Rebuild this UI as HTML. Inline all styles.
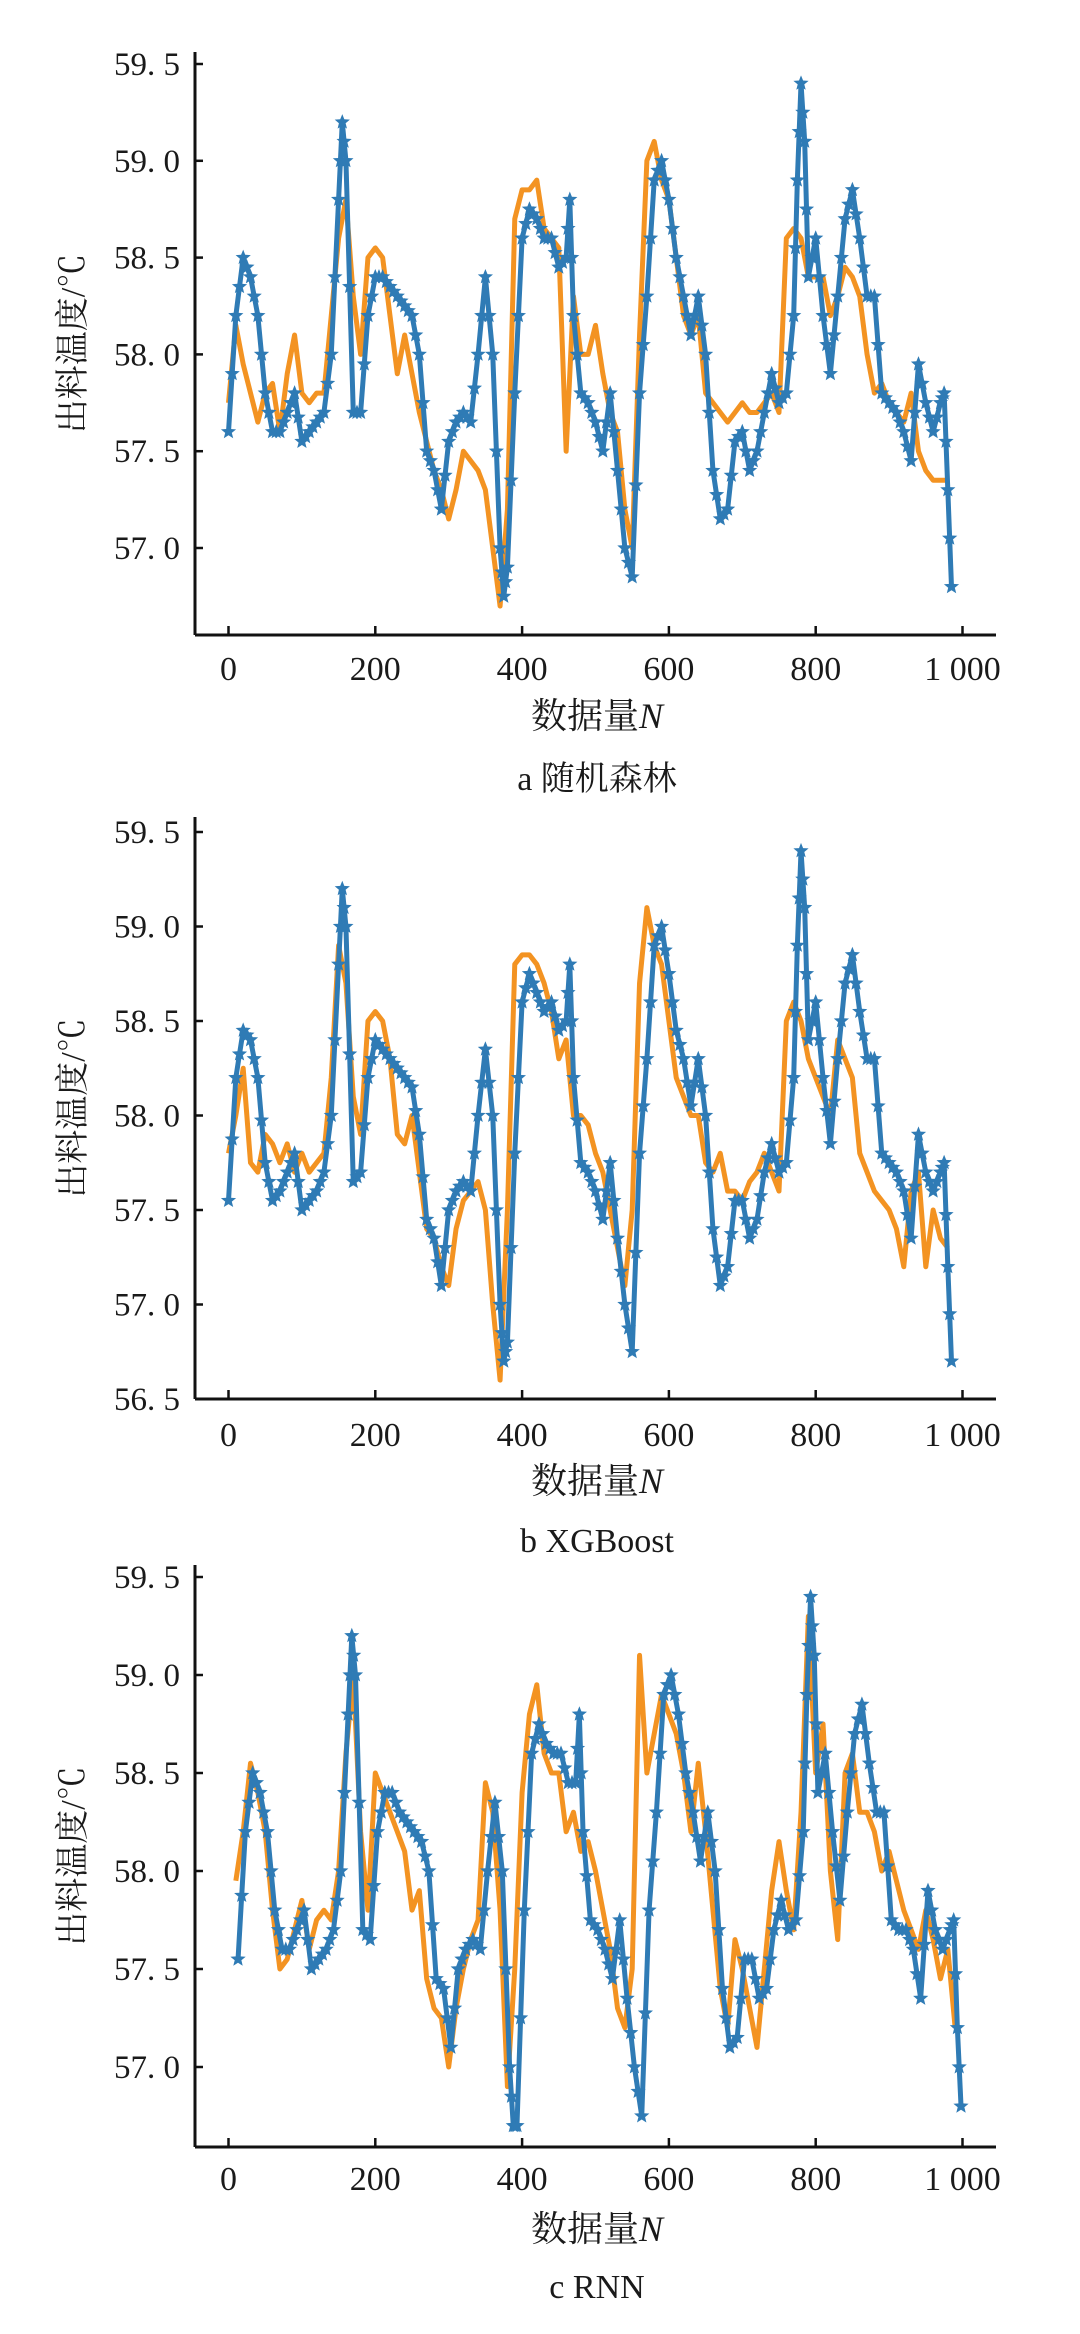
<!DOCTYPE html>
<html><head><meta charset="utf-8"><style>
html,body{margin:0;padding:0;background:#fff;}
svg{display:block;}
text{font-family:"Liberation Serif","Noto Serif CJK SC",serif;fill:#1a1a1a;}
</style></head><body>
<svg id="fig" width="1080" height="2334" viewBox="0 0 1080 2334" xmlns="http://www.w3.org/2000/svg"></svg>
<script>
// ---- data ----
const blueIdx = [0,10,20,30,40,50,60,70,80,90,100,110,120,130,140,150,155,160,170,180,190,200,210,220,230,240,250,260,270,280,290,300,310,320,330,340,350,360,370,375,380,390,400,410,420,430,440,450,460,465,470,480,490,500,510,520,530,540,550,560,570,580,590,600,610,620,630,640,650,660,670,680,690,700,710,720,730,740,750,760,770,775,780,785,790,800,810,820,830,840,850,860,870,880,890,900,910,920,930,940,950,960,970,975,980,985];
const blueVals = [57.6,58.2,58.5,58.4,58.2,57.8,57.6,57.6,57.7,57.8,57.55,57.6,57.65,57.7,58.0,58.8,59.2,59.0,57.7,57.7,58.2,58.4,58.4,58.35,58.3,58.25,58.2,58.0,57.5,57.4,57.2,57.55,57.65,57.7,57.65,58.0,58.4,58.0,57.0,56.75,56.9,57.8,58.6,58.75,58.7,58.6,58.6,58.45,58.5,58.8,58.2,57.8,57.75,57.65,57.5,57.8,57.4,57.0,56.85,57.8,58.3,58.9,59.0,58.8,58.5,58.3,58.1,58.3,58.0,57.4,57.15,57.2,57.55,57.6,57.4,57.5,57.7,57.9,57.75,57.8,58.2,58.9,59.4,59.1,58.4,58.6,58.2,57.9,58.3,58.7,58.85,58.6,58.3,58.3,57.8,57.75,57.7,57.6,57.45,57.95,57.75,57.6,57.75,57.8,57.3,56.8];
const blueValsB = [57.55,58.2,58.45,58.4,58.2,57.75,57.55,57.6,57.7,57.8,57.5,57.55,57.6,57.7,58.0,58.8,59.2,59.0,57.65,57.7,58.2,58.4,58.35,58.3,58.25,58.2,58.15,57.9,57.45,57.35,57.1,57.5,57.6,57.65,57.6,58.0,58.35,58.0,57.0,56.7,56.8,57.8,58.6,58.75,58.65,58.55,58.6,58.45,58.5,58.8,58.2,57.75,57.7,57.6,57.45,57.75,57.35,57.0,56.75,57.8,58.3,58.9,59.0,58.75,58.45,58.3,58.05,58.3,58.0,57.4,57.1,57.2,57.55,57.55,57.35,57.45,57.7,57.85,57.7,57.75,58.2,58.9,59.4,59.1,58.4,58.6,58.2,57.85,58.3,58.7,58.85,58.55,58.3,58.3,57.8,57.75,57.7,57.6,57.35,57.9,57.7,57.6,57.7,57.75,57.2,56.7];
const blueValsC = [57.55,58.2,58.5,58.4,58.2,57.8,57.6,57.6,57.7,57.8,57.5,57.55,57.6,57.7,58.0,58.8,59.2,59.0,57.7,57.65,58.2,58.4,58.4,58.3,58.25,58.2,58.15,58.0,57.45,57.4,57.1,57.5,57.6,57.65,57.6,58.0,58.35,58.0,57.0,56.7,56.7,57.8,58.6,58.75,58.65,58.6,58.6,58.45,58.45,58.8,58.2,57.75,57.7,57.6,57.45,57.75,57.35,57.0,56.75,57.8,58.3,58.9,59.0,58.8,58.5,58.3,58.05,58.3,58.0,57.4,57.1,57.15,57.55,57.55,57.35,57.4,57.7,57.85,57.7,57.75,58.2,58.9,59.4,59.1,58.4,58.6,58.2,57.85,58.3,58.7,58.85,58.55,58.3,58.3,57.75,57.7,57.7,57.6,57.35,57.9,57.7,57.6,57.7,57.75,57.2,56.8];
const blueOffsetC = 13;
const orangeIdx = [0,10,20,30,40,50,60,70,80,90,100,110,120,130,140,150,160,170,180,190,200,210,220,230,240,250,260,270,280,290,300,310,320,330,340,350,360,370,380,390,400,410,420,430,440,450,460,470,480,490,500,510,520,530,540,550,560,570,580,590,600,610,620,630,640,650,660,670,680,690,700,710,720,730,740,750,760,770,780,790,800,810,820,830,840,850,860,870,880,890,900,910,920,930,940,950,960,970,980];
const orangeA = [57.75,58.15,57.95,57.8,57.65,57.8,57.85,57.6,57.9,58.1,57.8,57.75,57.8,57.8,58.2,58.6,58.8,58.3,58.0,58.5,58.55,58.5,58.2,57.9,58.1,57.9,57.7,57.55,57.4,57.3,57.15,57.3,57.5,57.45,57.4,57.3,57.0,56.7,57.2,58.7,58.85,58.85,58.9,58.65,58.6,58.55,57.5,58.3,58.0,58.0,58.15,57.9,57.7,57.6,57.2,57.0,58.1,59.0,59.1,58.9,58.8,58.5,58.2,58.1,58.2,57.8,57.75,57.7,57.65,57.7,57.75,57.7,57.7,57.75,57.8,57.7,58.6,58.65,58.6,58.4,58.4,58.4,58.2,58.3,58.45,58.4,58.3,58.0,57.8,57.85,57.75,57.7,57.65,57.8,57.5,57.4,57.35,57.35,57.35];
const orangeB = [57.8,58.0,58.25,57.75,57.7,57.9,57.85,57.75,57.85,57.7,57.8,57.7,57.75,57.8,58.2,58.9,58.7,58.1,57.9,58.5,58.55,58.5,58.3,57.9,57.85,58.0,57.7,57.4,57.35,57.2,57.1,57.4,57.55,57.6,57.65,57.5,57.0,56.6,57.5,58.8,58.85,58.85,58.8,58.7,58.55,58.3,58.4,58.0,58.0,57.95,57.8,57.7,57.5,57.3,57.1,57.5,58.7,59.1,58.9,58.8,58.5,58.2,58.1,58.0,58.0,57.75,57.7,57.8,57.6,57.6,57.55,57.65,57.7,57.8,57.7,57.6,58.5,58.6,58.5,58.3,58.2,58.1,58.0,58.4,58.3,58.2,57.8,57.7,57.6,57.55,57.5,57.4,57.2,57.6,57.7,57.2,57.5,57.35,57.3];
const orangeC = [57.95,58.2,58.55,58.4,58.2,57.8,57.5,57.55,57.7,57.85,57.6,57.75,57.8,57.75,58.0,58.6,59.0,58.2,57.8,58.5,58.4,58.3,58.2,58.1,57.8,57.9,57.45,57.3,57.25,57.0,57.3,57.5,57.65,57.75,58.45,58.3,57.8,56.9,57.5,58.4,58.8,58.95,58.6,58.5,58.5,58.2,58.3,58.1,58.15,58.0,57.8,57.6,57.3,57.2,57.5,59.1,58.5,58.7,58.9,58.8,58.7,58.5,58.2,58.55,58.2,57.8,57.4,57.2,57.65,57.5,57.3,57.1,57.5,57.9,58.15,57.9,57.7,58.3,59.3,58.5,58.75,58.0,57.65,58.5,58.6,58.3,58.3,58.2,58.0,58.1,57.95,57.8,57.7,57.6,57.8,57.65,57.45,57.6,57.2];
const orangeOffsetC = 10;
const xTicks = [0,200,400,600,800,1000];
const xTickLabels = ["0","200","400","600","800","1 000"];
const yTicksAC = [59.5,59.0,58.5,58.0,57.5,57.0];
const yTicksB = [59.5,59.0,58.5,58.0,57.5,57.0,56.5];
const yTickLabelsAC = ["59. 5","59. 0","58. 5","58. 0","57. 5","57. 0"];
const yTickLabelsB = ["59. 5","59. 0","58. 5","58. 0","57. 5","57. 0","56. 5"];

const NS="http://www.w3.org/2000/svg";
const svg=document.getElementById('fig');
function mk(tag,attrs,parent){const e=document.createElementNS(NS,tag);for(const k in attrs)e.setAttribute(k,attrs[k]);(parent||svg).appendChild(e);return e;}

function drawPanel(p){
  const g=mk('g',{});
  
  
  const xs=v=>p.x0+(v/1000)*(p.x1000-p.x0);
  const ys=v=>p.yTop+(p.vTop-v)/(p.vTop-p.vBot)*(p.yBot-p.yTop);
  // axes
  const ya=mk('line',{x1:195,y1:p.axisTop,x2:195,y2:p.axisBottom,stroke:'#111','stroke-width':3},g);
  
  
  const xa=mk('line',{x1:195,y1:p.axisBottom,x2:996,y2:p.axisBottom,stroke:'#111','stroke-width':3},g);
  
  
  p.yTicks.forEach((v,i)=>{
    const y=ys(v);
    mk('line',{x1:195,y1:y,x2:203,y2:y,stroke:'#111','stroke-width':2.5},g);
    const t=mk('text',{x:180,y:y+11,'text-anchor':'end','font-size':33},g);
    t.textContent=p.yLabels[i];
    
    
  });
  xTicks.forEach((v,i)=>{
    const x=xs(v);
    mk('line',{x1:x,y1:p.axisBottom,x2:x,y2:p.axisBottom-9,stroke:'#111','stroke-width':2.5},g);
    const t=mk('text',{x:x,y:p.tickLabelY,'text-anchor':'middle','font-size':34},g);
    t.textContent=xTickLabels[i];
    
    
  });
  // orange predicted
  const op=p.oIdx.map((v,i)=>xs(v+p.oOff)+','+ys(p.oVals[i])).join(' ');
  const ol=mk('polyline',{points:op,fill:'none',stroke:'#f39322','stroke-width':5,'stroke-linejoin':'round'},g);
  
  
  // blue actual
  const bp=p.bIdx.map((v,i)=>xs(v+p.bOff)+','+ys(p.bVals[i])).join(' ');
  const bl=mk('polyline',{points:bp,fill:'none',stroke:'#2f7bb5','stroke-width':5,'stroke-linejoin':'round'},g);
  
  
  for(let i=0;i<p.bIdx.length;i++){
    const cx=xs(p.bIdx[i]+p.bOff), cy=ys(p.bVals[i]);
    const pts=[];
    for(let k=0;k<10;k++){const r=k%2?3.5:8;const a=-Math.PI/2+k*Math.PI/5;pts.push((cx+r*Math.cos(a)).toFixed(1)+','+(cy+r*Math.sin(a)).toFixed(1));}
    const s=mk('polygon',{points:pts.join(' '),fill:'#2f7bb5'},g);
    
    
    if(i<p.bIdx.length-1){
      const mx=(cx+xs(p.bIdx[i+1]+p.bOff))/2, my=(cy+ys(p.bVals[i+1]))/2;
      const pts2=[];
      for(let k=0;k<10;k++){const r=k%2?3.5:8;const a=-Math.PI/2+k*Math.PI/5;pts2.push((mx+r*Math.cos(a)).toFixed(1)+','+(my+r*Math.sin(a)).toFixed(1));}
      const s2=mk('polygon',{points:pts2.join(' '),fill:'#2f7bb5'},g);
      
      
    }
  }
  // titles
  const cy=(p.axisTop+p.axisBottom)/2;
  const yt=mk('text',{x:0,y:0,'text-anchor':'middle','font-size':34,transform:`translate(${p.yTitleX},${cy}) rotate(-90)`},g);
  yt.textContent='出料温度/℃';
  
  
  const xt=mk('text',{x:597,y:p.xTitleY,'text-anchor':'middle','font-size':36},g);
  xt.innerHTML='数据量<tspan font-style="italic">N</tspan>';
  
  
  const cp=mk('text',{x:597,y:p.capY,'text-anchor':'middle','font-size':34},g);
  cp.textContent=p.caption;
  
  
}

drawPanel({name:'panel-a-random-forest',x0:228.5,x1000:962.5,vTop:59.5,vBot:57.0,yTop:64,yBot:548,axisTop:52,axisBottom:635,
  yTicks:yTicksAC,yLabels:yTickLabelsAC,tickLabelY:680,yTitleX:84,xTitleY:728,capY:790,caption:'a  随机森林',
  bIdx:blueIdx,bVals:blueVals,bOff:0,oIdx:orangeIdx,oVals:orangeA,oOff:0});
drawPanel({name:'panel-b-xgboost',x0:228.5,x1000:962.5,vTop:59.5,vBot:56.5,yTop:832,yBot:1399,axisTop:817,axisBottom:1399,
  yTicks:yTicksB,yLabels:yTickLabelsB,tickLabelY:1446,yTitleX:84,xTitleY:1493,capY:1552,caption:'b  XGBoost',
  bIdx:blueIdx,bVals:blueValsB,bOff:0,oIdx:orangeIdx,oVals:orangeB,oOff:0});
drawPanel({name:'panel-c-rnn',x0:228.5,x1000:962.5,vTop:59.5,vBot:57.0,yTop:1577,yBot:2067,axisTop:1565,axisBottom:2147,
  yTicks:yTicksAC,yLabels:yTickLabelsAC,tickLabelY:2190,yTitleX:84,xTitleY:2241,capY:2298,caption:'c  RNN',
  bIdx:blueIdx,bVals:blueValsC,bOff:blueOffsetC,oIdx:orangeIdx,oVals:orangeC,oOff:orangeOffsetC});
</script>
</body></html>
